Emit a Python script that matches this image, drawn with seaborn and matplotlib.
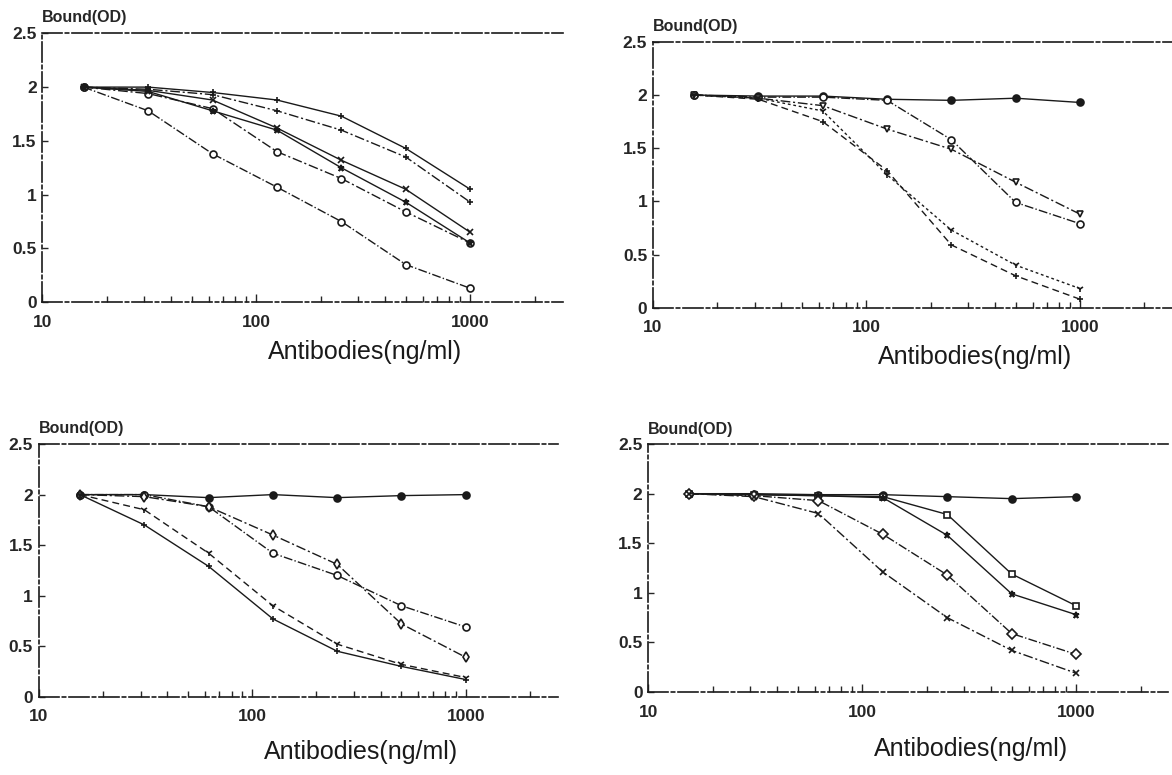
import matplotlib
matplotlib.use("Agg")
import pandas as pd
import matplotlib.pyplot as plt
import seaborn as sns
from matplotlib.ticker import NullFormatter

# 抗体浓度 (ng/ml)
conc = [15.6, 31.25, 62.5, 125, 250, 500, 1000]

# 左上
p1_a = [2.00, 1.78, 1.38, 1.07, 0.75, 0.35, 0.13]
p1_b = [2.00, 1.94, 1.80, 1.40, 1.15, 0.84, 0.55]
p1_c = [2.00, 1.96, 1.78, 1.60, 1.25, 0.93, 0.55]
p1_d = [2.00, 1.97, 1.88, 1.62, 1.32, 1.05, 0.65]
p1_e = [2.00, 1.98, 1.93, 1.78, 1.60, 1.35, 0.93]
p1_f = [2.00, 2.00, 1.95, 1.88, 1.73, 1.43, 1.05]

# 右上
p2_a = [2.00, 1.99, 1.99, 1.96, 1.95, 1.97, 1.93]
p2_b = [2.00, 1.98, 1.98, 1.95, 1.58, 0.99, 0.79]
p2_c = [2.00, 1.97, 1.90, 1.68, 1.49, 1.18, 0.88]
p2_d = [2.00, 1.96, 1.75, 1.29, 0.59, 0.30, 0.08]
p2_e = [2.00, 1.97, 1.85, 1.25, 0.73, 0.40, 0.18]

# 左下
p3_a = [2.00, 2.00, 1.97, 2.00, 1.97, 1.99, 2.00]
p3_b = [2.00, 2.00, 1.88, 1.42, 1.20, 0.90, 0.69]
p3_c = [2.00, 1.98, 1.88, 1.60, 1.31, 0.72, 0.39]
p3_d = [2.00, 1.70, 1.29, 0.77, 0.45, 0.30, 0.17]
p3_e = [2.00, 1.85, 1.42, 0.90, 0.52, 0.32, 0.19]

# 右下
p4_a = [2.00, 2.00, 1.99, 1.99, 1.97, 1.95, 1.97]
p4_b = [2.00, 1.99, 1.98, 1.97, 1.79, 1.19, 0.87]
p4_c = [2.00, 1.99, 1.98, 1.96, 1.58, 0.99, 0.78]
p4_d = [2.00, 1.98, 1.93, 1.59, 1.18, 0.59, 0.38]
p4_e = [2.00, 1.97, 1.80, 1.21, 0.75, 0.42, 0.19]

yticks = [0, 0.5, 1, 1.5, 2, 2.5]
ytick_labels = ["0", "0.5", "1", "1.5", "2", "2.5"]
xticks = [10, 100, 1000]
xtick_labels = ["10", "100", "1000"]

dd = (0, (7, 2, 1.5, 2))
dash = (0, (5, 3))
dot = (0, (2, 2))

# (axes 位置, xlabel 纵向位置, 曲线)
panels = [
    ([0.036, 0.610, 0.444, 0.347], -0.14,
     [(p1_a, "o", "w", "-."), (p1_b, "o", "w", dd), (p1_c, "*", "k", "-"),
      (p1_d, "x", "k", "-"), (p1_e, "+", "k", dd), (p1_f, "+", "k", "-")]),
    ([0.557, 0.603, 0.443, 0.343], -0.14,
     [(p2_a, "o", "k", "-"), (p2_b, "o", "w", "-."), (p2_c, "v", "w", dd),
      (p2_d, "+", "k", dash), (p2_e, "1", "k", dot)]),
    ([0.033, 0.101, 0.443, 0.326], -0.17,
     [(p3_a, "o", "k", "-"), (p3_b, "o", "w", "-."), (p3_c, "d", "w", dd),
      (p3_d, "+", "k", "-"), (p3_e, "1", "k", dash)]),
    ([0.553, 0.107, 0.444, 0.320], -0.18,
     [(p4_a, "o", "k", "-"), (p4_b, "s", "w", "-"), (p4_c, "*", "k", "-"),
      (p4_d, "D", "w", "-."), (p4_e, "x", "k", dd)]),
]

sns.set_theme(style="white")
plt.rcParams["font.family"] = ["Liberation Sans", "DejaVu Sans"]

fig = plt.figure(figsize=(11.72, 7.75), dpi=100)

for rect, label_y, series in panels:
    ax = fig.add_axes(rect)
    for vals, mk, fc, ls in series:
        df = pd.DataFrame({"conc": conc, "od": vals})
        sns.lineplot(data=df, x="conc", y="od", ax=ax, color="k", lw=1.0,
                     linestyle=ls, marker=mk, markersize=5,
                     markerfacecolor=fc, markeredgecolor="k",
                     markeredgewidth=1.2, errorbar=None, legend=False)
    ax.set_xscale("log")
    ax.set_xlim(10, 2700)
    ax.set_ylim(0, 2.5)
    ax.set_xticks(xticks)
    ax.set_xticklabels(xtick_labels, fontsize=12.5, fontweight="bold")
    ax.xaxis.set_minor_formatter(NullFormatter())
    ax.set_yticks(yticks)
    ax.set_yticklabels(ytick_labels, fontsize=12.5, fontweight="bold")
    ax.tick_params(axis="x", which="major", direction="in", length=6,
                   width=1, pad=9, bottom=True)
    ax.tick_params(axis="x", which="minor", direction="in", length=4,
                   width=1, bottom=True)
    ax.tick_params(axis="y", direction="in", length=4, width=1, pad=4, left=True)
    for side in ["left", "bottom", "top"]:
        ax.spines[side].set_visible(True)
        ax.spines[side].set_color("k")
        ax.spines[side].set_linewidth(1.2)
        ax.spines[side].set_linestyle((0, (12, 2, 2, 2)))
    ax.spines["right"].set_visible(False)
    ax.set_xlabel("Antibodies(ng/ml)", fontsize=18, color="k")
    ax.xaxis.set_label_coords(0.62, label_y)
    ax.set_ylabel("")
    ax.text(0.0, 1.03, "Bound(OD)", transform=ax.transAxes, fontsize=11.5,
            fontweight="bold", ha="left", va="bottom")
    ax.grid(False)

fig.savefig("out.png", dpi=100, facecolor="white")
